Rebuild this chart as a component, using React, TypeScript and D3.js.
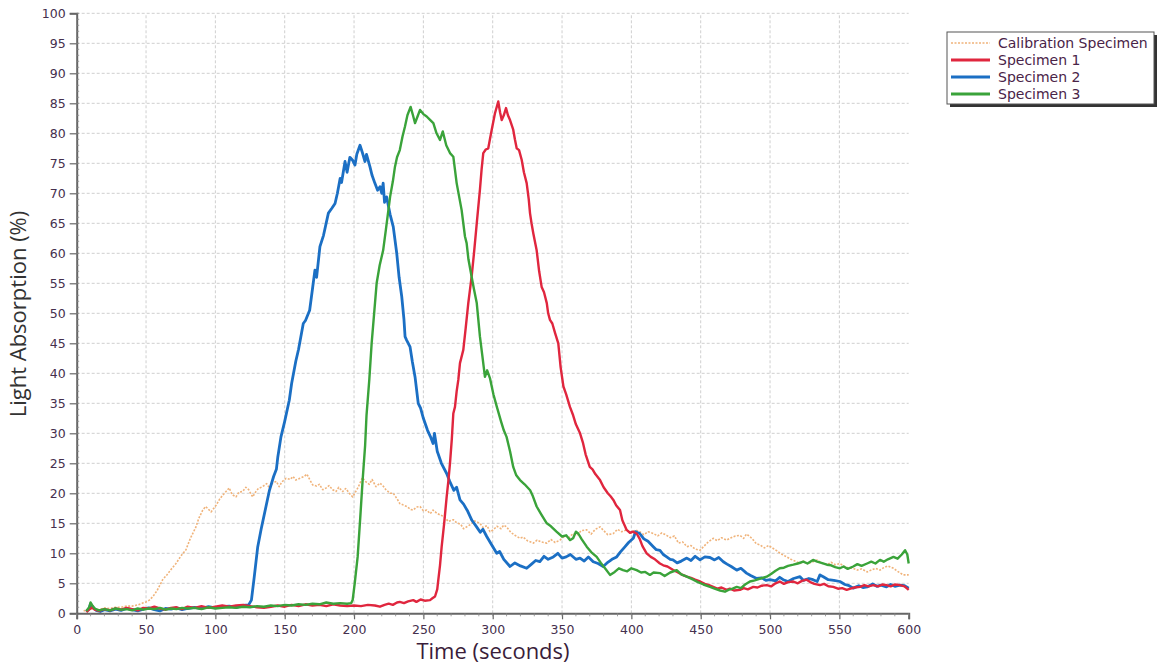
import React, { useEffect, useRef } from 'react';
import * as d3 from 'd3';

type Pt = [number, number];

// time (s), light absorption (%)
const calibration: Pt[] = [
  [5,0.4],[8,0.6],[12,0.8],[16,0.6],[20,0.9],[24,0.8],[28,1.0],[32,1.0],[36,1.2],[40,1.2],[44,1.4],[47.6,1.7],[50,1.9],[52.4,2.2],[55,2.8],[58,3.8],[62,5.6],[65,6.4],[68,7.3],[71.6,8.3],[75,9.5],[78.8,10.6],[82,12.5],[86,14.4],[88,15.8],[90.9,17.2],[93,17.8],[96.9,16.9],[100.5,18],[103,19],[105,19.6],[107.7,20.3],[110,20.9],[112,19.8],[114.9,19.4],[117,20.2],[119.7,20.3],[122,21],[124,20.6],[126.9,19.4],[129,20.2],[131,20.8],[134,21.1],[137,21.6],[139,20.9],[141.3,21.7],[144,22],[146,21.1],[148,21.9],[151,22.5],[154,22.3],[156,22.8],[158,22.2],[161,22.5],[164,22.8],[166,23.2],[168,22.3],[170.2,21.4],[173,21.2],[175,21.5],[177.4,20.6],[180,20.9],[182,21.3],[184.6,20.6],[187,20.3],[189,21],[191.8,20.3],[194,20.8],[197,19.9],[199,19.4],[201,20.2],[203,21],[204.3,21.7],[206,22.6],[208.6,21.9],[211,21.5],[213,22.3],[215.8,21.1],[218.7,21.7],[221,21.2],[223,20.6],[226,20],[228.3,20],[231,19.1],[233,18.3],[236,18],[238,17.8],[241,17.3],[242.7,17.2],[245,17.7],[247.6,17.8],[250,17.1],[252.4,17.2],[255,16.6],[257,17.2],[259.6,16.7],[262,16.4],[265,16.1],[268,15.3],[271.6,15.6],[274,15.1],[277,14.8],[279,14.1],[281.2,14.4],[284,14.8],[287,15.4],[290.8,15],[293,14.3],[296,14.6],[298,13.6],[300.4,13.9],[303,14.5],[306,14.1],[308,14.7],[310,14.4],[313,13.5],[316,13],[319.7,12.5],[322,12.7],[325,12.1],[329.3,11.7],[332,12.2],[335,11.9],[339,11.7],[342,12.3],[345,11.8],[348.5,12.2],[352,12.9],[355,12.6],[358,13.3],[361,13.1],[364,13.8],[367.8,13.9],[371,13.2],[374,14],[377.4,14.4],[380,13.8],[383,13.1],[387,13.3],[390,14],[393,13.6],[396.6,13.9],[400,13.4],[403,13.9],[406,13.6],[409,13.1],[412,13.6],[415.8,13.3],[419,12.9],[422,13.4],[425.4,13],[428,12.6],[431,12.9],[434,11.7],[437,11.9],[440,11.1],[443,11.3],[446,10.7],[449.5,10.5],[452,11.1],[455,11.8],[459,12.5],[462,12.1],[465,12.6],[468.7,12.2],[472,12.6],[475,12.9],[478.3,13],[481,12.5],[483,13.2],[485.5,12.8],[488,12.2],[490,11.6],[492.7,11.4],[496,10.9],[499,11.3],[502.3,10.8],[505,10.4],[508,9.9],[512,9.4],[515,9],[518,8.7],[521.6,8.3],[524,8.7],[527,8.3],[531,8.6],[534,8.9],[537,8.4],[541,8.1],[544,8.5],[547,8.1],[550.4,8.3],[553,7.9],[556,7.6],[560,7.5],[563,7.2],[566,7.4],[570,6.9],[573,7.2],[576,7.5],[579.3,7.2],[582,7.6],[585,7.9],[589,7.5],[592,7.0],[596,6.4],[600,6.4]
];

const specimen1: Pt[] = [
  [7,0.2],[9,0.6],[11,1.0],[13,0.6],[16,0.4],[20,0.7],[24,0.5],[28,0.8],[32,0.6],[36,0.9],[40,0.7],[44,0.5],[48,0.9],[52,0.8],[56,1.1],[60,0.8],[64,0.6],[68,0.9],[72,1.0],[76,0.7],[80,1.1],[85,0.9],[90,1.2],[95,0.9],[100,1.1],[105,1.3],[110,1.1],[115,1.3],[120,1.4],[125,1.2],[130,1.0],[135,0.9],[140,1.1],[145,1.3],[150,1.1],[155,1.4],[160,1.2],[165,1.5],[170,1.3],[175,1.4],[180,1.2],[185,1.5],[190,1.3],[195,1.2],[200,1.3],[205,1.2],[210,1.4],[215,1.3],[218.7,1.1],[222,1.4],[225,1.6],[228,1.4],[231,1.8],[233,1.9],[236,1.7],[239,2.0],[242.7,2.2],[245,1.9],[248,2.3],[251,2.1],[254.8,2.2],[256.5,2.5],[258.4,2.8],[260,4],[260.8,5.6],[262,8],[263.2,11.1],[265,15],[266.8,19.4],[268,22],[269.2,25],[270.5,29],[271.6,33.3],[272.8,34.4],[274,37],[275.2,38.9],[276.4,41.7],[278.8,43.9],[280.5,47.5],[282.4,51.7],[284.8,56.1],[286.5,60],[288.5,65],[290.8,70.6],[292,74],[293.2,76.7],[295,77.3],[296.8,77.5],[298,79],[299.3,80.6],[301.6,83.3],[304,85.3],[305.3,83.5],[306.5,82.2],[308,83],[309.6,84.2],[311,83],[312.5,82.2],[314.8,80.6],[316,79],[317.3,77.5],[319,77.2],[320.9,75.6],[322.5,73.5],[324.5,71.7],[326,69],[326.9,66.7],[328,65],[329.3,63.3],[331.7,60.5],[333.5,57],[335.3,54.4],[337,53.5],[339,51.7],[340,50],[341.3,48.9],[343,48.3],[345,46.7],[347.3,45],[349,41],[351,37.8],[353,36.5],[355.7,34.4],[358,33],[360,31.5],[363,30],[365,28.5],[367,26.5],[370,24.4],[372,24],[374,23.2],[377.4,22.2],[380,21],[383,20],[385,19.5],[387,18.9],[389,18],[391.8,17.2],[393.5,15.5],[396.6,13.9],[399,13.4],[401,13.6],[403.8,13.3],[406,12.4],[408,11.2],[411,10],[414,9.4],[417,9],[420.6,8.3],[423,8],[426,7.8],[430.2,7.2],[433,6.9],[436,6.5],[440,6.1],[443,5.9],[446,5.6],[449.5,5.3],[453,4.9],[456,4.7],[459,4.4],[462,4.1],[465,4.3],[468.7,3.9],[471,4.1],[474,3.8],[478.3,3.9],[481,4.2],[484,4.0],[487.9,4.4],[491,4.3],[494,4.6],[497.6,4.7],[501,4.5],[504,5.0],[507,5.3],[510,4.9],[513,5.2],[516.8,5.3],[520,5.0],[523,5.4],[526.4,5.6],[529,5.2],[532,4.9],[536,4.7],[539,4.9],[542,4.5],[545.6,4.4],[549,4.1],[552,4.2],[555.3,3.9],[558,4.1],[561,4.3],[565,4.4],[568,4.7],[571,4.5],[574.5,4.7],[578,4.5],[581,4.8],[584,4.7],[587,4.5],[590,4.8],[593.7,4.7],[597,4.5],[600,3.9]
];

const specimen2: Pt[] = [
  [7,0.3],[9,0.8],[10,1.6],[12,0.9],[14,0.5],[17,0.3],[20,0.6],[24,0.4],[28,0.7],[32,0.5],[36,0.8],[40,0.6],[44,0.4],[48,0.7],[52,0.9],[56,0.6],[60,0.4],[64,0.8],[68,0.7],[72,0.9],[76,0.6],[80,0.8],[85,1.0],[90,0.8],[95,1.1],[100,0.9],[105,1.1],[110,1.2],[115,1.0],[120,1.3],[124,1.4],[126,2.2],[128,6],[130.5,11],[133,14],[136.5,17.8],[139,20.5],[142,22.8],[144,24],[145,26],[147.3,29.4],[150,32],[153.3,35.5],[155,38.3],[158,42],[160,44],[163.4,48.3],[165,48.8],[168,50.5],[170,54],[171.8,57.2],[173,56],[175.4,61.1],[178,63],[181.5,66.7],[184,67.5],[186.3,68.3],[188,70],[190,72.5],[191,71.8],[193.5,75.3],[195,73.5],[197,76],[199,75.5],[200.7,74.7],[202,76.5],[204.3,78],[206,76.8],[207.9,75.3],[209,76.5],[211.5,74.4],[213,73],[215,71.7],[217,70.5],[218.7,71.1],[220,70],[221,71.7],[222,68.5],[223.5,69.4],[226,66.5],[228.3,64.4],[230.8,60],[232.5,56],[234.4,52.8],[236,49],[236.8,46.1],[238,45.5],[240.4,44.4],[242,42],[244,39.4],[246.3,35],[248,34.2],[250,32.5],[253,30.5],[255,29.5],[257,28.3],[258,30],[260,27],[263,25],[266.8,23.3],[269,22],[272,20.5],[274,21],[276.4,18.9],[279,18.2],[282,17],[285,15.5],[288.4,14.4],[291,13.5],[293,14],[295.7,12.8],[299,11.5],[302.9,10],[305,10.3],[308,9],[312.5,7.8],[316,8.4],[320,7.9],[324.5,7.5],[328,8.2],[331,8.8],[334,8.6],[337,9.5],[340,9],[343.7,9.4],[347,10],[350,9.2],[353,9.4],[356,9.8],[360,9],[363,9.2],[366,8.7],[369,9.4],[372.5,8.6],[376,8.3],[379.7,7.8],[383,8.5],[386,9],[389.4,9.4],[392,10.2],[395,11],[398,11.8],[401.4,12.5],[403,13.6],[406,13.3],[409,12.4],[412,12],[415.8,11.1],[418,10.6],[420.6,10.5],[423,9.8],[425.5,9.4],[428,9],[430,8.9],[433,8.4],[436,8.7],[440,9.2],[443,8.8],[446,9.5],[449.5,8.9],[453,9.4],[456.7,9.3],[460,8.9],[463,9.3],[466.3,8.6],[469,8.2],[472,7.8],[476,7.2],[479,7.5],[483,6.7],[486,6.3],[490.4,5.8],[494,5.9],[497,5.5],[500,5.6],[504,5.4],[507,6],[509.5,5.6],[513,5.3],[517,5.8],[521.6,6.1],[524,5.5],[528,5.8],[531,5.6],[534,5.3],[536,6.4],[538.4,6.1],[542,5.6],[546,5.5],[550.4,5.3],[554,4.8],[557,4.6],[560,4.2],[564,4.6],[567,4.3],[570,4.4],[574,4.9],[577,4.5],[580,4.7],[584,4.4],[587,4.8],[590,4.5],[593.7,4.7],[597,4.6],[600,4.2]
];

const specimen3: Pt[] = [
  [7,0.4],[9,1.0],[10,1.8],[11,1.4],[13,0.8],[16,0.5],[20,0.7],[24,0.5],[28,0.8],[32,0.6],[36,0.7],[40,0.5],[44,0.8],[48,0.6],[52,0.8],[56,0.7],[60,0.9],[64,0.6],[68,0.8],[72,0.7],[76,0.9],[80,0.8],[85,0.9],[90,0.7],[95,1.0],[100,0.8],[105,0.9],[110,1.0],[115,0.9],[120,1.1],[125,1.0],[130,1.2],[135,1.1],[140,1.3],[145,1.2],[150,1.4],[155,1.3],[160,1.5],[165,1.4],[170,1.6],[175,1.5],[180,1.8],[185,1.6],[190,1.7],[195,1.6],[198,1.7],[199,2.2],[200.5,5],[202.6,9.4],[204.5,16],[206.2,22.2],[208,28],[209,33],[211,38.9],[212.7,45],[214.5,50],[216.3,55],[218.5,58],[221,60.5],[223,64],[226,69.4],[228,72],[229.5,74.4],[231,76],[233,77.2],[235,79.5],[236.7,81.1],[238.5,83],[240.8,84.4],[242.5,83],[244,81.7],[245.8,82.8],[247.6,83.9],[250,83.2],[252.4,82.8],[255,82.2],[257.2,81.7],[259.5,80],[262,78.9],[264,80.3],[266.5,78],[269.2,76.7],[271.6,76.1],[274,71.7],[277.6,67.2],[280,62.8],[281.2,61.7],[282.5,59],[284.8,56.1],[286.5,54],[288.5,51.7],[290.8,46.1],[292.5,43],[294.4,39.4],[296,40.5],[298,39.2],[300.5,36.5],[303,34.4],[306,32],[308,30.5],[310,29.4],[312.5,27],[314.8,24.4],[317,23],[319.7,22.2],[323,21.5],[327,20.5],[329,19.5],[331.7,17.8],[335,16.5],[339,15],[342,14.5],[346,13.6],[350,12.8],[353,13],[355.7,12.2],[358,12.5],[360,13.6],[361.7,13.3],[364,12.4],[367.8,11.1],[371,10.2],[375,9.4],[378,8.4],[381,7.5],[384.6,6.4],[388,6.9],[391,7.5],[394,7.2],[397,7.0],[400,7.5],[403.8,7.2],[407,6.8],[410,6.9],[413.4,6.4],[416,6.8],[420.6,6.7],[424,6.2],[428,6.8],[432.7,7.2],[436,6.5],[440,6.1],[444.6,5.6],[448,5.2],[452,4.8],[456.7,4.4],[460,4.1],[464,3.8],[467.5,3.6],[470,3.9],[473,4.1],[476,4.4],[479,4.2],[482,4.8],[485.5,5.3],[489,5.5],[493,5.8],[497.6,6.1],[501,6.6],[504,7.1],[507,7.5],[510,7.6],[513,7.9],[516.8,8.1],[520,8.3],[524,8.6],[527,8.3],[531,8.9],[534,8.6],[537,8.4],[541,8.1],[544,8.0],[547,7.7],[550.4,7.5],[553,7.8],[556,7.4],[560,7.8],[563,8.2],[566,7.9],[570,8.3],[573,8.6],[576,8.3],[579.3,8.9],[582,8.6],[585,9.0],[589,9.4],[592,9.1],[595,9.8],[597.4,10.5],[599,9.8],[600,8.3]
];

const seriesNames = ['Calibration Specimen', 'Specimen 1', 'Specimen 2', 'Specimen 3'];
const xTicks = d3.range(0, 601, 50);
const yTicks = d3.range(0, 101, 5);

const WIDTH = 1161;
const HEIGHT = 669;
const font = '"DejaVu Sans", Verdana, sans-serif';

export default function App() {
  const svgRef = useRef<SVGSVGElement>(null);

  useEffect(() => {
    if (!svgRef.current) return;
    const svg = d3.select(svgRef.current);
    svg.selectAll('*').remove();

    const x = d3.scaleLinear().domain([0, 600]).range([76.7, 908.7]);
    const y = d3.scaleLinear().domain([0, 100]).range([613.3, 13.3]);

    svg.append('rect').attr('width', WIDTH).attr('height', HEIGHT).attr('fill', '#fff');

    // grid
    const grid = svg.append('g');
    grid.selectAll('line.h')
      .data(yTicks.filter(d => d > 0))
      .enter().append('line')
      .attr('x1', x(0)).attr('x2', x(600))
      .attr('y1', d => y(d)).attr('y2', d => y(d))
      .attr('stroke', '#cfcfcf').attr('stroke-width', 1).attr('stroke-dasharray', '3,2');
    grid.selectAll('line.v')
      .data(xTicks.filter(d => d > 0 && d < 600))
      .enter().append('line')
      .attr('y1', y(0)).attr('y2', y(100))
      .attr('x1', d => x(d)).attr('x2', d => x(d))
      .attr('stroke', '#cfcfcf').attr('stroke-width', 1).attr('stroke-dasharray', '3,2');

    // series
    const line = d3.line<Pt>().x(d => x(d[0])).y(d => y(d[1])).curve(d3.curveLinear);
    const styles = [
      { data: calibration, color: '#f0b37a', width: 1.6, dash: '2,1.5' },
      { data: specimen2, color: '#1b6fc4', width: 2.8, dash: null },
      { data: specimen1, color: '#e0263e', width: 2.4, dash: null },
      { data: specimen3, color: '#3aa33a', width: 2.4, dash: null },
    ];
    const plot = svg.append('g');
    styles.forEach(s => {
      plot.append('path')
        .datum(s.data)
        .attr('d', line)
        .attr('fill', 'none')
        .attr('stroke', s.color)
        .attr('stroke-width', s.width)
        .attr('stroke-linejoin', 'round')
        .attr('stroke-dasharray', s.dash as any);
    });

    // y axis
    const yAxis = svg.append('g')
      .attr('transform', `translate(${x(0)},0)`)
      .call(d3.axisLeft(y).tickValues(yTicks).tickSize(7).tickPadding(4).tickFormat(d3.format('d')));
    yAxis.select('.domain').attr('stroke', '#666').attr('stroke-width', 2);
    yAxis.selectAll('.tick line').attr('stroke', '#666').attr('stroke-width', 1.2);
    yAxis.selectAll('.tick text')
      .attr('fill', '#45304e').attr('font-size', 12.5).attr('font-family', font);
    svg.append('g').selectAll('line')
      .data(d3.range(0, 101, 1))
      .enter().append('line')
      .attr('x1', x(0)).attr('x2', x(0) + 2.5)
      .attr('y1', d => y(d)).attr('y2', d => y(d))
      .attr('stroke', '#888').attr('stroke-width', 0.8);

    // x axis
    const xAxis = svg.append('g')
      .attr('transform', `translate(0,${y(0)})`)
      .call(d3.axisBottom(x).tickValues(xTicks).tickSize(6).tickPadding(6).tickFormat(d3.format('d')));
    xAxis.select('.domain').attr('stroke', '#666').attr('stroke-width', 2);
    xAxis.selectAll('.tick line').attr('stroke', '#666').attr('stroke-width', 1.2);
    xAxis.selectAll('.tick text')
      .attr('fill', '#45304e').attr('font-size', 12.5).attr('font-family', font);
    svg.append('g').selectAll('line')
      .data(d3.range(0, 601, 10))
      .enter().append('line')
      .attr('x1', d => x(d)).attr('x2', d => x(d))
      .attr('y1', y(0)).attr('y2', y(0) + 3)
      .attr('stroke', '#888').attr('stroke-width', 0.8);

    // axis titles
    svg.append('text')
      .attr('x', 493).attr('y', 659)
      .attr('text-anchor', 'middle')
      .attr('font-family', '"Open Sans", sans-serif').attr('font-size', 22)
      .attr('fill', '#3a1d3a')
      .text('Time (seconds)');
    svg.append('text')
      .attr('transform', 'translate(26,314) rotate(-90)')
      .attr('text-anchor', 'middle')
      .attr('font-family', '"Open Sans", sans-serif').attr('font-size', 22)
      .attr('fill', '#333')
      .text('Light Absorption (%)');

    // legend
    const lg = svg.append('g').attr('transform', 'translate(947,32)');
    lg.append('rect').attr('x', 3).attr('y', 3).attr('width', 207).attr('height', 72).attr('fill', '#333');
    lg.append('rect').attr('x', 0).attr('y', 0).attr('width', 207).attr('height', 72)
      .attr('fill', '#fff').attr('stroke', '#555').attr('stroke-width', 1);
    const order = [styles[0], styles[2], styles[1], styles[3]];
    seriesNames.forEach((name, i) => {
      const s = order[i];
      const cy = 11 + i * 17;
      lg.append('line')
        .attr('x1', 4).attr('x2', 43).attr('y1', cy).attr('y2', cy)
        .attr('stroke', s.color).attr('stroke-width', i === 0 ? 1.4 : 2.8)
        .attr('stroke-dasharray', s.dash as any);
      lg.append('text')
        .attr('x', 51).attr('y', cy + 5)
        .attr('font-family', font).attr('font-size', 14)
        .attr('fill', '#4a2448')
        .text(name);
    });
  }, []);

  return (
    <div style={{ position: 'absolute', left: 0, top: 0 }}>
      <svg ref={svgRef} width={WIDTH} height={HEIGHT} style={{ display: 'block' }} />
    </div>
  );
}
